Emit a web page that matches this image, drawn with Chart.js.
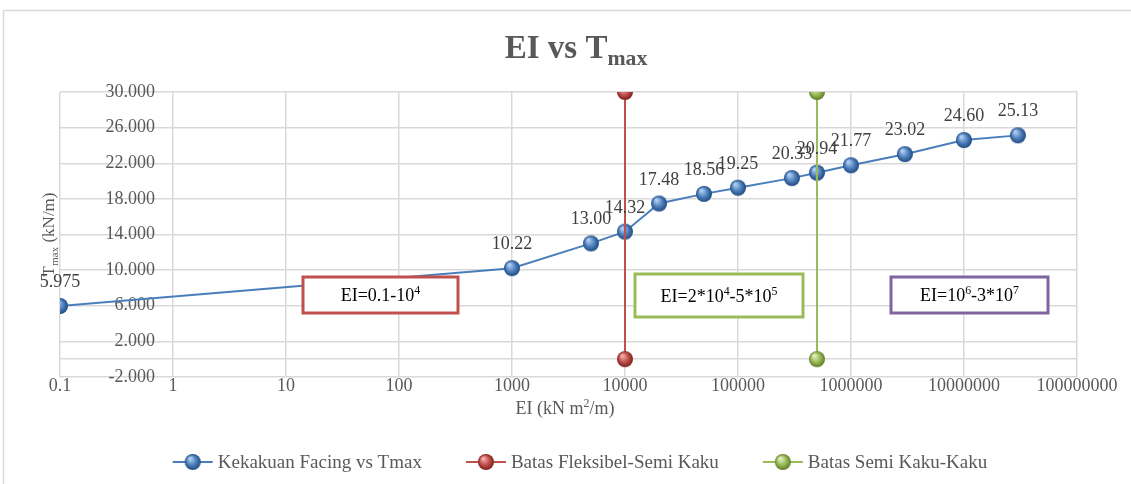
<!DOCTYPE html>
<html>
<head>
<meta charset="utf-8">
<script src="https://cdn.jsdelivr.net/npm/chart.js@4/dist/chart.umd.min.js"></script>
<style>
  body { margin: 0; background: #fff; }
  #wrap { width: 1131px; height: 484px; }
</style>
</head>
<body>
<div id="wrap"><canvas id="chart" width="1131" height="484"></canvas></div>
<script>
// Donnees
const eiValues = [0.1, 1000, 5000, 10000, 20000, 50000, 100000, 300000, 500000, 1000000, 3000000, 10000000, 30000000];
const tmaxValues = [5.975, 10.22, 13.00, 14.32, 17.48, 18.56, 19.25, 20.33, 20.94, 21.77, 23.02, 24.60, 25.13];
const tmaxLabels = ['5.975', '10.22', '13.00', '14.32', '17.48', '18.56', '19.25', '20.33', '20.94', '21.77', '23.02', '24.60', '25.13'];

const fleksibelX = [10000, 10000];
const fleksibelY = [0, 30];
const semiKakuX = [500000, 500000];
const semiKakuY = [0, 30];

const xTickValues = [0.1, 1, 10, 100, 1000, 10000, 100000, 1000000, 10000000, 100000000];
const xTickLabels = ['0.1', '1', '10', '100', '1000', '10000', '100000', '1000000', '10000000', '100000000'];
const yTickValues = [-2, 0, 2, 6, 10, 14, 18, 22, 26, 30];
const yTickLabels = ['-2.000', '', '2.000', '6.000', '10.000', '14.000', '18.000', '22.000', '26.000', '30.000'];

const seriesNames = ['Kekakuan Facing vs Tmax', 'Batas Fleksibel-Semi Kaku', 'Batas Semi Kaku-Kaku'];

const SERIF = '"Liberation Serif", "Times New Roman", serif';
const GREY = '#595959';
const TICK_SIZE = 18;

// Couleurs des series (style Excel 2010)
const blue = { line: '#4A7EBB', light: '#B3CFF2', mid: '#4F81BD', dark: '#1F4A80' };
const red = { line: '#C0504D', light: '#F4AEAC', mid: '#C0504D', dark: '#7E1F1C' };
const green = { line: '#9BBB59', light: '#E2EFC0', mid: '#9BBB59', dark: '#5E7D24' };

// Bille 3D pour les marqueurs
function makeBall(c, r) {
    const cv = document.createElement('canvas');
    cv.width = cv.height = r * 2 + 2;
    const g = cv.getContext('2d');
    const cx = r + 1, cy = r + 1;
    const grad = g.createRadialGradient(cx - r * 0.35, cy - r * 0.45, r * 0.1, cx, cy, r);
    grad.addColorStop(0, c.light);
    grad.addColorStop(0.55, c.mid);
    grad.addColorStop(1, c.dark);
    g.fillStyle = grad;
    g.beginPath();
    g.arc(cx, cy, r, 0, Math.PI * 2);
    g.fill();
    return cv;
}

const ballBlue = makeBall(blue, 8);
const ballRed = makeBall(red, 8);
const ballGreen = makeBall(green, 8);

// largeur max des etiquettes de l'axe y (elles sont dans la zone du graphe)
const measureCtx = document.createElement('canvas').getContext('2d');
measureCtx.font = TICK_SIZE + 'px ' + SERIF;
const yWidest = Math.max(...yTickLabels.map(t => measureCtx.measureText(t).width));
const yLabelRight = 95; // bord droit des etiquettes, depuis le bord gauche de la zone

// Texte avec indices / exposants
function drawRich(ctx, parts, x, y, align, size) {
    const widths = parts.map(p => {
        ctx.font = (p.bold ? 'bold ' : '') + (p.small ? size * 0.66 : size) + 'px ' + SERIF;
        return ctx.measureText(p.t).width;
    });
    const total = widths.reduce((a, b) => a + b, 0);
    let cx = align === 'center' ? x - total / 2 : x;
    ctx.textAlign = 'left';
    ctx.textBaseline = 'alphabetic';
    parts.forEach((p, i) => {
        ctx.font = (p.bold ? 'bold ' : '') + (p.small ? size * 0.66 : size) + 'px ' + SERIF;
        let dy = 0;
        if (p.sub) dy = size * 0.22;
        if (p.sup) dy = -size * 0.38;
        ctx.fillText(p.t, cx, y + dy);
        cx += widths[i];
    });
}

// Zones annotees
const boxes = [
    { x: 303, y: 277, w: 155, h: 36, color: '#C0504D', parts: [{ t: 'EI=0.1-10' }, { t: '4', small: true, sup: true }] },
    { x: 635, y: 274, w: 168, h: 43, color: '#9BBB59', parts: [{ t: 'EI=2*10' }, { t: '4', small: true, sup: true }, { t: '-5*10' }, { t: '5', small: true, sup: true }] },
    { x: 891, y: 277, w: 157, h: 36, color: '#8064A2', parts: [{ t: 'EI=10' }, { t: '6', small: true, sup: true }, { t: '-3*10' }, { t: '7', small: true, sup: true }] }
];

const decorPlugin = {
    id: 'decor',
    beforeDraw(chart) {
        const ctx = chart.ctx;
        ctx.save();
        ctx.fillStyle = '#fff';
        ctx.fillRect(0, 0, chart.width, chart.height);
        ctx.strokeStyle = '#d9d9d9';
        ctx.lineWidth = 1.5;
        ctx.strokeRect(3.5, 10.5, 1140, 500);
        ctx.restore();
    },
    afterDatasetsDraw(chart) {
        const ctx = chart.ctx;
        ctx.save();
        // boites
        boxes.forEach(b => {
            ctx.fillStyle = '#fff';
            ctx.fillRect(b.x, b.y, b.w, b.h);
            ctx.strokeStyle = b.color;
            ctx.lineWidth = 3;
            ctx.strokeRect(b.x, b.y, b.w, b.h);
            ctx.fillStyle = '#000';
            drawRich(ctx, b.parts, b.x + b.w / 2, b.y + b.h / 2 + 6, 'center', 18);
        });
        // etiquettes de donnees
        const meta = chart.getDatasetMeta(0);
        ctx.fillStyle = '#404040';
        ctx.font = '18px ' + SERIF;
        ctx.textAlign = 'center';
        ctx.textBaseline = 'alphabetic';
        meta.data.forEach((pt, i) => {
            ctx.fillText(tmaxLabels[i], pt.x, pt.y - 19);
        });
        ctx.restore();
    },
    afterDraw(chart) {
        const ctx = chart.ctx;
        const area = chart.chartArea;
        ctx.save();
        ctx.fillStyle = GREY;
        // titre
        drawRich(ctx, [{ t: 'EI vs T', bold: true }, { t: 'max', bold: true, small: true, sub: true }], 576, 58, 'center', 33);
        // titre axe x
        drawRich(ctx, [{ t: 'EI (kN m' }, { t: '2', small: true, sup: true }, { t: '/m)' }], 565, 414, 'center', 18);
        // titre axe y
        ctx.translate(54, (area.top + area.bottom) / 2);
        ctx.rotate(-Math.PI / 2);
        drawRich(ctx, [{ t: 'T' }, { t: 'max', small: true, sub: true }, { t: ' (kN/m)' }], 0, 0, 'center', 17);
        ctx.restore();

        // legende
        ctx.save();
        const balls = [ballBlue, ballRed, ballGreen];
        const colors = [blue.line, red.line, green.line];
        ctx.font = '19px ' + SERIF;
        const gap = 44, markW = 40, textGap = 5;
        const widths = seriesNames.map(n => markW + textGap + ctx.measureText(n).width);
        const total = widths.reduce((a, b) => a + b, 0) + gap * (seriesNames.length - 1);
        let x = 580 - total / 2;
        const y = 462;
        seriesNames.forEach((name, i) => {
            ctx.strokeStyle = colors[i];
            ctx.lineWidth = 2;
            ctx.beginPath();
            ctx.moveTo(x, y);
            ctx.lineTo(x + markW, y);
            ctx.stroke();
            ctx.drawImage(balls[i], x + markW / 2 - balls[i].width / 2, y - balls[i].height / 2);
            ctx.fillStyle = GREY;
            ctx.textAlign = 'left';
            ctx.textBaseline = 'middle';
            ctx.fillText(name, x + markW + textGap, y + 1);
            x += widths[i] + gap;
        });
        ctx.restore();
    }
};

const chart = new Chart(document.getElementById('chart').getContext('2d'), {
    type: 'scatter',
    data: {
        datasets: [
            {
                label: seriesNames[0],
                data: eiValues.map((v, i) => ({ x: v, y: tmaxValues[i] })),
                showLine: true,
                borderColor: blue.line,
                borderWidth: 2,
                pointStyle: ballBlue,
                pointRadius: 8,
                order: 2
            },
            {
                label: seriesNames[1],
                data: fleksibelX.map((v, i) => ({ x: v, y: fleksibelY[i] })),
                showLine: true,
                borderColor: red.line,
                borderWidth: 2,
                pointStyle: ballRed,
                pointRadius: 8,
                order: 1
            },
            {
                label: seriesNames[2],
                data: semiKakuX.map((v, i) => ({ x: v, y: semiKakuY[i] })),
                showLine: true,
                borderColor: green.line,
                borderWidth: 2,
                pointStyle: ballGreen,
                pointRadius: 8,
                order: 0
            }
        ]
    },
    options: {
        responsive: false,
        devicePixelRatio: 1,
        animation: false,
        layout: { padding: { left: 60, right: 54, top: 92, bottom: 0 } },
        plugins: {
            legend: { display: false },
            title: { display: false },
            tooltip: { enabled: false }
        },
        scales: {
            x: {
                type: 'logarithmic',
                min: 0.1,
                max: 100000000,
                afterBuildTicks: (s) => { s.ticks = xTickValues.map(v => ({ value: v })); },
                afterFit: (s) => { s.height = 107; },
                ticks: {
                    autoSkip: false,
                    maxRotation: 0,
                    padding: -2,
                    color: GREY,
                    font: { family: SERIF, size: TICK_SIZE },
                    callback: (v, i) => xTickLabels[i]
                },
                grid: { color: '#d9d9d9', lineWidth: 1.5, drawTicks: false },
                border: { display: false }
            },
            y: {
                type: 'linear',
                position: 'left',
                min: -2,
                max: 30,
                afterBuildTicks: (s) => { s.ticks = yTickValues.map(v => ({ value: v })); },
                afterFit: (s) => { s.width = 0; },
                ticks: {
                    mirror: true,
                    crossAlign: 'far',
                    padding: yLabelRight - yWidest,
                    autoSkip: false,
                    color: GREY,
                    font: { family: SERIF, size: TICK_SIZE },
                    callback: (v, i) => yTickLabels[i]
                },
                grid: { color: '#d9d9d9', lineWidth: 1.5, drawTicks: false },
                border: { display: false }
            }
        }
    },
    plugins: [decorPlugin]
});
</script>
</body>
</html>
